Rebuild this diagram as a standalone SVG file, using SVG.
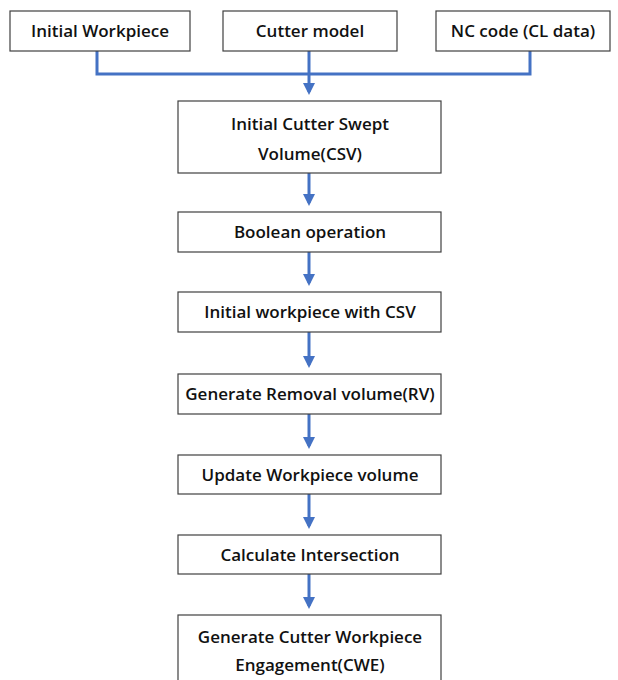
<svg xmlns="http://www.w3.org/2000/svg" width="618" height="680" viewBox="0 0 618 680">
<style>
.box{fill:#fff;stroke:#404040;stroke-width:1.2}
.t{font-family:"Open Sans","Liberation Sans",sans-serif;font-weight:600;font-size:17px;fill:#111;text-anchor:middle}
.c{fill:none;stroke:#4472C4;stroke-width:3}
</style>
<defs>
<marker id="ah" markerWidth="4" markerHeight="4" refX="3" refY="2" orient="auto" markerUnits="strokeWidth">
<path d="M0,0 L4,2 L0,4 z" fill="#4472C4"/>
</marker>
</defs>
<rect width="618" height="680" fill="#fff"/>
<g id="connectors">
<polyline class="c" points="97,51 97,74 530,74 530,51"/>
<line class="c" x1="309" y1="51" x2="309" y2="92" marker-end="url(#ah)"/>
<line class="c" x1="309" y1="173" x2="309" y2="203" marker-end="url(#ah)"/>
<line class="c" x1="309" y1="252" x2="309" y2="283" marker-end="url(#ah)"/>
<line class="c" x1="309" y1="332" x2="309" y2="365" marker-end="url(#ah)"/>
<line class="c" x1="309" y1="414" x2="309" y2="446" marker-end="url(#ah)"/>
<line class="c" x1="309" y1="494" x2="309" y2="526" marker-end="url(#ah)"/>
<line class="c" x1="309" y1="574" x2="309" y2="606" marker-end="url(#ah)"/>
</g>
<g id="n1"><rect class="box" x="10" y="11" width="180" height="40"/><text class="t" x="100" y="37">Initial Workpiece</text></g>
<g id="n2"><rect class="box" x="223" y="11" width="174" height="40"/><text class="t" x="310" y="37">Cutter model</text></g>
<g id="n3"><rect class="box" x="436" y="11" width="174" height="40"/><text class="t" x="523" y="37">NC code (CL data)</text></g>
<g id="n4"><rect class="box" x="178" y="101" width="263" height="72"/><text class="t" x="310" y="130">Initial Cutter Swept</text><text class="t" x="310" y="160">Volume(CSV)</text></g>
<g id="n5"><rect class="box" x="178" y="212" width="263" height="40"/><text class="t" x="310" y="238">Boolean operation</text></g>
<g id="n6"><rect class="box" x="178" y="292" width="263" height="40"/><text class="t" x="310" y="318">Initial workpiece with CSV</text></g>
<g id="n7"><rect class="box" x="178" y="374" width="263" height="40"/><text class="t" x="310" y="400">Generate Removal volume(RV)</text></g>
<g id="n8"><rect class="box" x="178" y="455" width="263" height="39"/><text class="t" x="310" y="481">Update Workpiece volume</text></g>
<g id="n9"><rect class="box" x="178" y="535" width="263" height="39"/><text class="t" x="310" y="561">Calculate Intersection</text></g>
<g id="n10"><rect class="box" x="178" y="615" width="263" height="80"/><text class="t" x="310" y="643">Generate Cutter Workpiece</text><text class="t" x="310" y="671">Engagement(CWE)</text></g>
</svg>
